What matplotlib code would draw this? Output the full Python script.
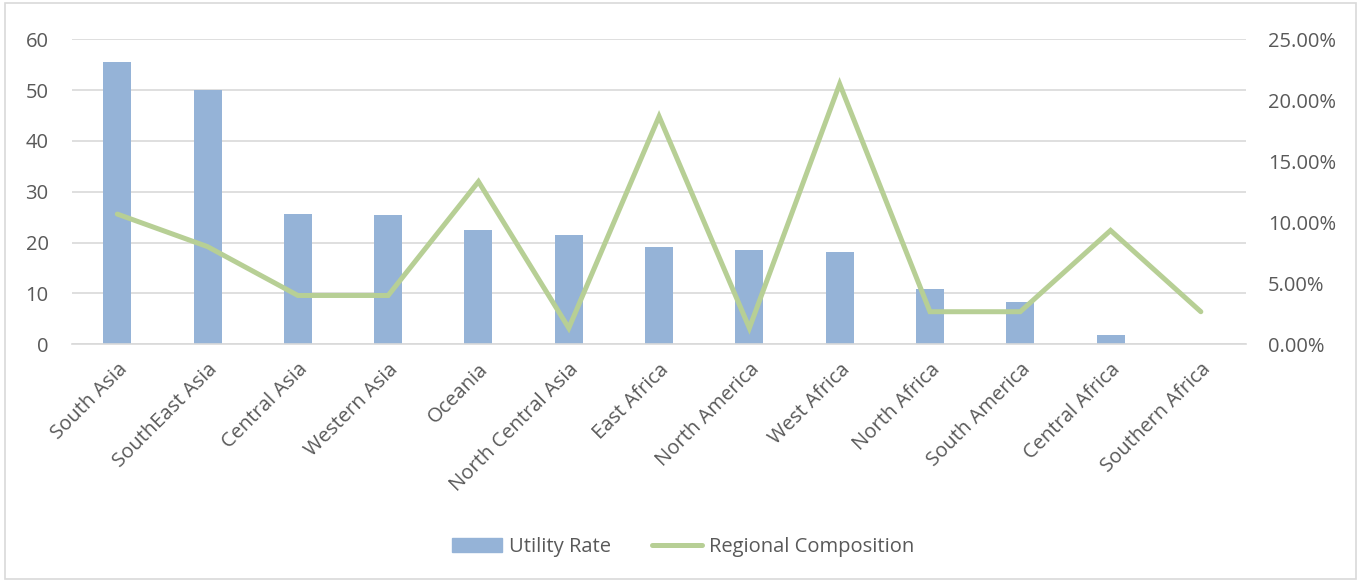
import matplotlib
matplotlib.use("Agg")
import matplotlib.pyplot as plt
from matplotlib.patches import Rectangle
from matplotlib.lines import Line2D
from matplotlib.ticker import FuncFormatter, MultipleLocator

plt.rcParams['font.family'] = ['Open Sans', 'DejaVu Sans']

regions = ["South Asia", "SouthEast Asia", "Central Asia", "Western Asia", "Oceania",
           "North Central Asia", "East Africa", "North America", "West Africa",
           "North Africa", "South America", "Central Africa", "Southern Africa"]
utility_rate = [55.6, 50.0, 25.6, 25.4, 22.5, 21.5, 19.2, 18.6, 18.2, 10.9, 8.4, 1.9, 0.0]
composition = [0.1067, 0.08, 0.04, 0.04, 0.1333, 0.0133, 0.1867, 0.0133, 0.2133,
               0.0267, 0.0267, 0.0933, 0.0267]

bar_color = '#95B3D7'
line_color = '#B7CF95'
txt = '#595959'
grid = '#D9D9D9'
fs = 14.5

fig = plt.figure(figsize=(13.61, 5.81), dpi=100)
fig.patches.append(Rectangle((0.004, 0.004), 0.992, 0.99, transform=fig.transFigure,
                             fill=False, edgecolor='#D9D9D9', linewidth=1.2))

ax = fig.add_axes([0.053, 0.4074, 0.8625, 0.5252])
x = range(len(regions))
ax.bar(x, utility_rate, width=0.31, color=bar_color, zorder=2)
ax.set_xlim(-0.5, len(regions) - 0.5)
ax.set_ylim(0, 60)
ax.yaxis.set_major_locator(MultipleLocator(10))
ax.grid(axis='y', color=grid, linewidth=1.2, zorder=0)
for s in ax.spines.values():
    s.set_visible(False)
ax.spines['bottom'].set_visible(True)
ax.spines['bottom'].set_color(grid)
ax.spines['bottom'].set_linewidth(1.2)
ax.tick_params(length=0, colors=txt, labelsize=fs)
ax.tick_params(axis='y', pad=17)
ax.tick_params(axis='x', pad=11)
ax.set_xticks(list(x))
ax.set_xticklabels(regions, rotation=45, ha='right', rotation_mode='anchor', color=txt)

ax2 = ax.twinx()
ax2.plot(x, composition, color=line_color, linewidth=3.6, solid_capstyle='round',
         solid_joinstyle='miter', zorder=3)
ax2.set_ylim(0, 0.25)
ax2.yaxis.set_major_locator(MultipleLocator(0.05))
ax2.yaxis.set_major_formatter(FuncFormatter(lambda v, p: f"{v*100:.2f}%"))
for s in ax2.spines.values():
    s.set_visible(False)
ax2.tick_params(length=0, colors=txt, labelsize=fs, pad=16)

handles = [Rectangle((0, 0), 1, 1, color=bar_color),
           Line2D([0], [0], color=line_color, linewidth=3.6, solid_capstyle='round')]
fig.legend(handles, ["Utility Rate", "Regional Composition"], loc='center',
           bbox_to_anchor=(0.502, 0.058), ncol=2, frameon=False, fontsize=fs,
           labelcolor=txt, handlelength=2.5, handletextpad=0.35, columnspacing=2.0)

fig.savefig("out.png", dpi=100)
